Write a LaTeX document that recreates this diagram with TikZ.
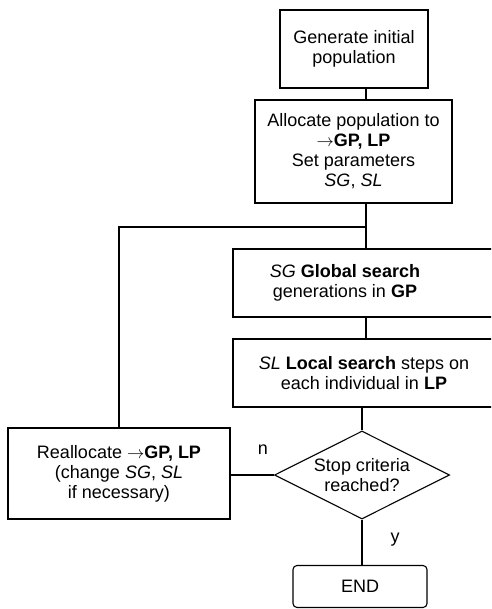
\documentclass[tikz,border=0pt]{standalone}
\usepackage{fontspec}
\setmainfont{Liberation Sans}
\usetikzlibrary{shapes.geometric}
\newcommand{\toarrow}{$\rightarrow$}
\begin{document}
\begin{tikzpicture}[x=1pt,y=-1pt,line width=1.1pt,
        font=\fontsize{18}{20}\selectfont,
        box/.style={draw,align=center,inner sep=0pt},
        txt/.style={align=center,inner sep=0pt}]
        \useasboundingbox (0,0) rectangle (491,609);
        \clip (0,0) rectangle (491,609);
        \coordinate (spine) at (366,0);
        \coordinate (join) at (366,227);
        %% Start
        \node[box,minimum width=148pt,minimum height=78pt] (init) at (354,49) {Generate initial\\population};
        %% Allocation
        \node[box,minimum width=197pt,minimum height=103pt] (alloc) at (353.5,151.5)
            {Allocate population to\\\toarrow\textbf{GP, LP}\\Set parameters\\\textit{SG}, \textit{SL}};
        %% Global search (open to the right)
        \draw (500,249) -- (233,249) -- (233,317) -- (500,317);
        \coordinate (globtop) at (366,249);
        \coordinate (globbot) at (366,317);
        \node[txt] (glob) at (345,283) {\textit{SG} \textbf{Global search}\\generations in \textbf{GP}};
        %% Local search (open to the right)
        \draw (500,339) -- (233,339) -- (233,407) -- (500,407);
        \coordinate (loctop) at (366,339);
        \coordinate (locbot) at (362,407);
        \node[txt] (loc) at (364,373) {\textit{SL} \textbf{Local search} steps on\\each individual in \textbf{LP}};
        %% Decision
        \node[draw,diamond,shape aspect=2,inner sep=0pt,align=center,
            minimum width=175pt,minimum height=88pt] (stop) at (362,475) {Stop criteria\\reached?};
        %% Reallocation
        \node[box,minimum width=222pt,minimum height=91pt] (realloc) at (119,473.5)
            {Reallocate \toarrow\textbf{GP, LP}\\(change \textit{SG}, \textit{SL}\\if necessary)};
        %% End
        \node[box,rounded corners=4pt,minimum width=134pt,minimum height=42pt] (fin) at (360,586.5) {END};
        %% Connectors
        \draw (spine |- init.south) -- (spine |- alloc.north);
        \draw (spine |- alloc.south) -- (join) -- (globtop);
        \draw (join) -| (realloc.north);
        \draw (globbot) -- (loctop);
        \draw (locbot) -- (stop.north);
        \draw (stop.west) -- (stop.west -| realloc.east);
        \draw (stop.south) -- (stop.south |- fin.north);
        \node (no) at (263,450) {n};
        \node (yes) at (395,540) {y};
    \end{tikzpicture}
\end{document}
